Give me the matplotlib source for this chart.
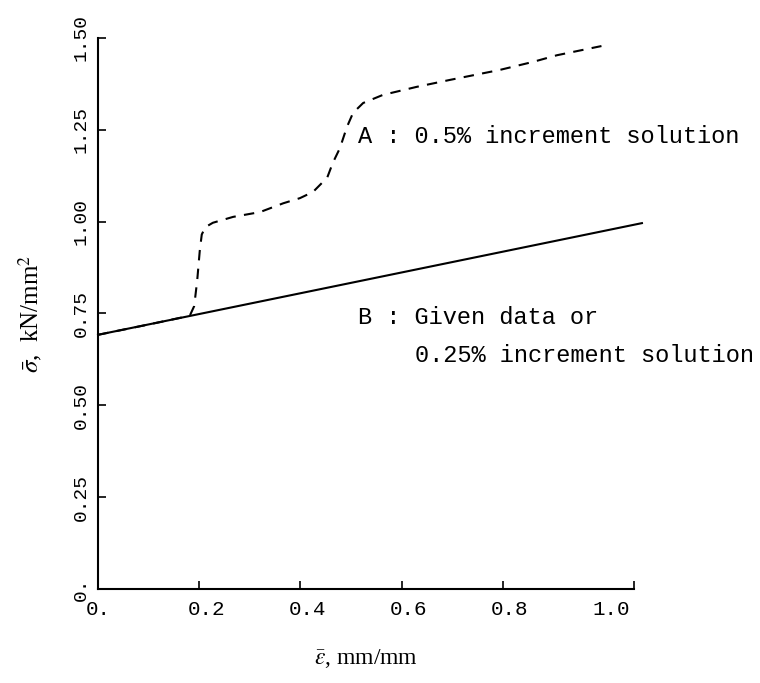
import matplotlib
matplotlib.use("Agg")
import matplotlib.pyplot as plt
from matplotlib.transforms import ScaledTranslation

# curve B: given data (straight line)
eps_b = [0.0, 1.075]
sig_b = [0.692, 0.996]

# curve A: 0.5% increment solution
eps_a = [0.0, 0.10, 0.175, 0.182, 0.190, 0.196, 0.201, 0.205, 0.212, 0.227,
         0.267, 0.320, 0.366, 0.399, 0.425, 0.453, 0.464, 0.478, 0.492, 0.504,
         0.524, 0.563, 0.630, 0.696, 0.794, 0.860, 0.907, 0.995]
sig_a = [0.692, 0.720, 0.742, 0.746, 0.770, 0.840, 0.920, 0.965, 0.985, 0.997,
         1.013, 1.026, 1.050, 1.064, 1.081, 1.120, 1.160, 1.200, 1.258, 1.296,
         1.323, 1.345, 1.367, 1.386, 1.413, 1.435, 1.453, 1.478]

x_ticks = [0.0, 0.2, 0.4, 0.6, 0.8, 1.0]
x_labels = ["0.", "0.2", "0.4", "0.6", "0.8", "1.0"]
y_ticks = [0.0, 0.25, 0.50, 0.75, 1.00, 1.25, 1.50]
y_labels = ["0.", "0.25", "0.50", "0.75", "1.00", "1.25", "1.50"]

mono = "Liberation Mono"
serif = "Liberation Serif"
plt.rcParams["mathtext.fontset"] = "stix"

fig = plt.figure(figsize=(7.6, 6.83), dpi=100)
ax = fig.add_axes([0.129, 0.1376, 0.705, 0.8068])

ax.plot(eps_b, sig_b, color="black", lw=1.5, clip_on=False)
line_a, = ax.plot(eps_a, sig_a, color="black", lw=1.5)
line_a.set_dashes([5, 4])

ax.set_xlim(0, 1.059)
ax.set_ylim(0, 1.5)

for s in ["top", "right"]:
    ax.spines[s].set_visible(False)
for s in ["left", "bottom"]:
    ax.spines[s].set_linewidth(1.5)

ax.set_xticks(x_ticks)
ax.set_xticklabels(x_labels, fontfamily=mono, fontsize=15)
ax.set_yticks(y_ticks)
ax.set_yticklabels(y_labels, fontfamily=mono, fontsize=14, rotation=90,
                   va="center")
ax.tick_params(axis="both", direction="in", length=6, width=1.2)
ax.tick_params(axis="x", pad=8)
ax.tick_params(axis="y", pad=6)
# the end of the x axis carries the tick, not 1.0
ax.xaxis.get_major_ticks()[-1].tick1line.set_visible(False)
ax.set_xticks([1.059], minor=True)
ax.tick_params(axis="x", which="minor", direction="in", length=6, width=1.2)
# labels in the original sit a little right of their ticks
shift = ScaledTranslation(7 / 100, 0, fig.dpi_scale_trans)
for lab in ax.get_xticklabels()[1:]:
    lab.set_transform(lab.get_transform() + shift)

ax.set_xlabel(r"$\bar{\varepsilon}$, mm/mm", fontfamily=serif, fontsize=17)
ax.xaxis.set_label_coords(0.5, -0.105)
ax.set_ylabel(r"$\bar{\sigma}$,  kN/mm$^2$", fontfamily=serif, fontsize=18)
ax.yaxis.set_label_coords(-0.1, 0.5)

ax.text(0.514, 1.231, "A : 0.5% increment solution", fontfamily=mono,
        fontsize=17, va="center", ha="left")
ax.text(0.514, 0.738, "B : Given data or", fontfamily=mono,
        fontsize=17, va="center", ha="left")
ax.text(0.626, 0.637, "0.25% increment solution", fontfamily=mono,
        fontsize=17, va="center", ha="left")

fig.savefig("out.png", dpi=100)
